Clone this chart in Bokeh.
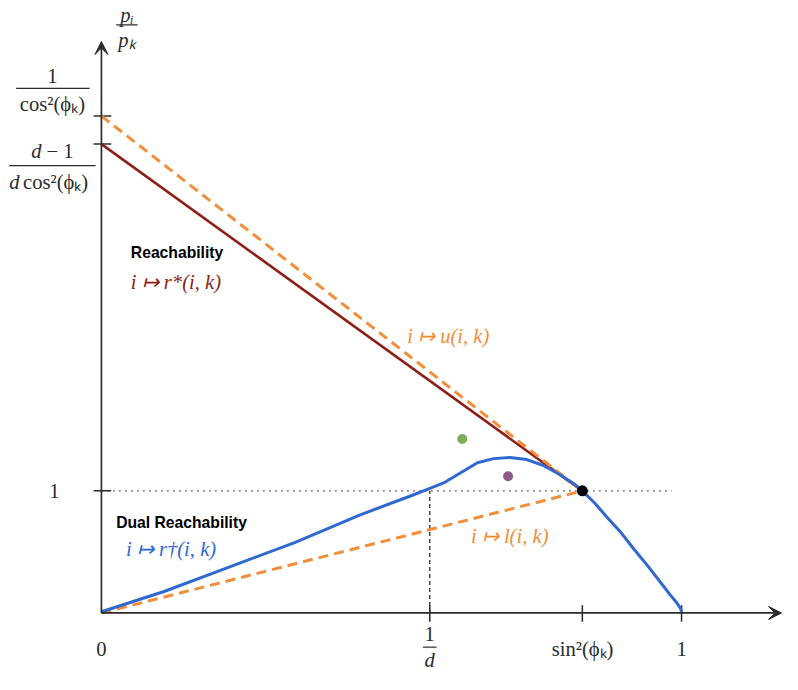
from bokeh.plotting import figure
from bokeh.models import Arrow, VeeHead
from bokeh.core.properties import value
from bokeh.embed import file_html
from bokeh.resources import INLINE

# ---------------- data ----------------
D_INV = 0.566          # 1/d
SIN2 = 0.829           # sin^2(phi_k)
X_ONE = 1.0
Y_ONE = 1.0
Y_R0 = 3.84            # (d-1)/(d cos^2(phi_k))
Y_U0 = 4.07            # 1/cos^2(phi_k)

blue_x = [0.000, 0.108, 0.220, 0.333, 0.445, 0.535, 0.564, 0.592, 0.620, 0.648,
          0.676, 0.704, 0.733, 0.761, 0.789, 0.817, 0.829, 0.851, 0.873, 0.896,
          0.918, 0.941, 0.963, 0.980, 0.992, 0.999, 1.000]
blue_y = [0.010, 0.176, 0.376, 0.576, 0.802, 0.962, 1.016, 1.070, 1.150, 1.230,
          1.264, 1.274, 1.256, 1.210, 1.136, 1.050, 1.000, 0.896, 0.776, 0.656,
          0.522, 0.390, 0.256, 0.150, 0.082, 0.030, 0.000]

red_x = [0.0, SIN2]
red_y = [Y_R0, Y_ONE]
u_x = [0.0, SIN2]
u_y = [Y_U0, Y_ONE]
l_x = [0.0, SIN2]
l_y = [0.0, Y_ONE]

green_pt = (0.622, 1.424)
purple_pt = (0.701, 1.120)
black_pt = (SIN2, Y_ONE)

x_ticks = [D_INV, SIN2, X_ONE]
y_ticks = [Y_ONE, Y_R0, Y_U0]
x_tick_labels = ["0", "sin²(ϕₖ)", "1"]

# ---------------- layout helpers (reference pixels -> data) ----------------
X0, Y0 = 103.0, 627.0
PX, PY = 592.0, 125.0
W, H = 782, 674
REF_W, REF_H = 798, 690
S = W / REF_W


def dx(px):
    return (px - X0) / PX


def dy(py):
    return (Y0 - py) / PY


def fs(n):
    return f"{n * S:.1f}px"


RED = "#8E1F17"
ORANGE = "#F28E3A"
BLUE = "#2F68CF"
AX = "#2b2b2b"
SERIF = value("Liberation Serif")
SANS = value("Liberation Sans")

p = figure(width=W, height=H, output_backend="svg", toolbar_location=None,
           x_range=(dx(0), dx(REF_W)), y_range=(dy(REF_H), dy(0)),
           x_axis_type=None, y_axis_type=None, min_border=0,
           outline_line_color=None, background_fill_color="white")
p.xgrid.visible = False
p.ygrid.visible = False

# guides
p.line([0, dx(685)], [Y_ONE, Y_ONE], line_dash="1 5", line_width=1.6, line_color=AX)
p.line([D_INV, D_INV], [0, Y_ONE], line_dash="4 3", line_width=1.3, line_color=AX)

# axes with arrows
p.add_layout(Arrow(end=VeeHead(size=13, fill_color=AX, line_color=AX, line_width=1),
                   x_start=0, y_start=0, x_end=dx(797), y_end=0,
                   line_width=1.7, line_color=AX))
p.add_layout(Arrow(end=VeeHead(size=13, fill_color=AX, line_color=AX, line_width=1),
                   x_start=0, y_start=0, x_end=0, y_end=dy(42),
                   line_width=1.7, line_color=AX))

# ticks
p.segment(x0=x_ticks, y0=[dy(619)] * 3, x1=x_ticks, y1=[dy(636)] * 3,
          line_color=AX, line_width=1.5)
p.segment(x0=[dx(95)] * 3, y0=y_ticks, x1=[dx(113)] * 3, y1=y_ticks,
          line_color=AX, line_width=1.5)

# curves
p.line(red_x, red_y, line_color=RED, line_width=2.6)
p.line(u_x, u_y, line_color=ORANGE, line_width=3, line_dash="10 6")
p.line(l_x, l_y, line_color=ORANGE, line_width=3, line_dash="10 6")
p.line(blue_x, blue_y, line_color=BLUE, line_width=3, line_join="round")

# points
p.scatter([green_pt[0]], [green_pt[1]], size=10, fill_color="#7FAE5A", line_color=None)
p.scatter([purple_pt[0]], [purple_pt[1]], size=10, fill_color="#8C5A86", line_color=None)
p.scatter([black_pt[0]], [black_pt[1]], size=11, fill_color="black", line_color=None)


# ---------------- texts ----------------
def math(xs, ys, texts, color=AX, size=21, align="center", style="normal"):
    p.text(x=[dx(v) for v in xs], y=[dy(v) for v in ys], text=texts,
           text_font=SERIF, text_font_size=fs(size), text_color=color,
           text_align=align, text_baseline="middle", text_font_style=style)


def bar(x0, x1, y):
    p.segment(x0=[dx(x0)], y0=[dy(y)], x1=[dx(x1)], y1=[dy(y)],
              line_color=AX, line_width=1.2)


# x tick labels
math([103, 594, 695], [664, 664, 664], x_tick_labels)
math([438], [649], ["1"])
math([438], [675], ["d"], style="italic")
bar(431, 445, 662)

# y tick labels
math([55], [502], ["1"])
math([53], [77], ["1"])
bar(16, 91, 90)
math([53], [106], ["cos²(ϕₖ)"])
math([42], [154], ["d"], align="right", style="italic")
math([47], [154], ["− 1"], align="left")
bar(9, 97, 169)
math([9], [186], ["d"], align="left", style="italic")
math([23], [186], ["cos²(ϕₖ)"], align="left")

# y axis label p_i / p_k
math([129], [15], ["pᵢ"], style="italic")
bar(118, 140, 25)
math([129], [40], ["pₖ"], style="italic")

# annotations
p.text(x=[dx(133)], y=[dy(258)], text=["Reachability"], text_font=SANS,
       text_font_size=fs(16), text_font_style="bold", text_color="black",
       text_baseline="middle", text_align="left")
math([133], [288], ["i ↦ r*(i, k)"], color=RED, align="left", style="italic")

p.text(x=[dx(118)], y=[dy(534)], text=["Dual Reachability"], text_font=SANS,
       text_font_size=fs(16), text_font_style="bold", text_color="black",
       text_baseline="middle", text_align="left")
math([128], [562], ["i ↦ r†(i, k)"], color=BLUE, align="left", style="italic")

math([415], [343], ["i ↦ u(i, k)"], color=ORANGE, align="left", style="italic")
math([480], [548], ["i ↦ l(i, k)"], color=ORANGE, align="left", style="italic")

open("out.html", "w").write(file_html(p, INLINE))
